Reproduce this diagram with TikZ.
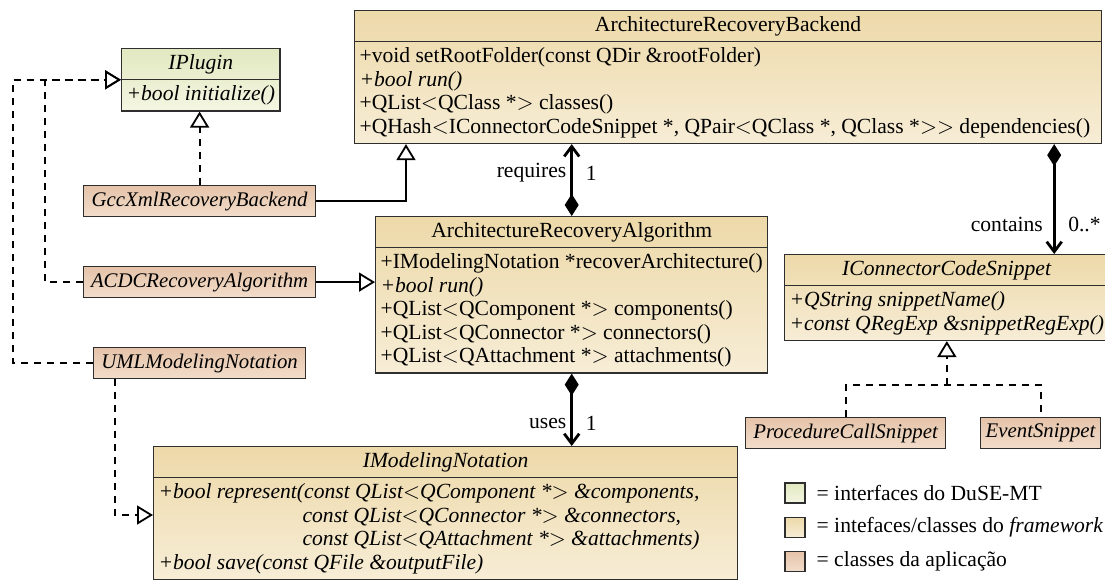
\documentclass[tikz,border=0pt]{standalone}
\usepackage{fontspec}
\setmainfont{Liberation Serif}
\usepackage{xcolor}
\usepackage{tikz}
\usetikzlibrary{arrows.meta,positioning,calc,shapes.multipart}

\newcommand{\umlsize}{\fontsize{10.8}{11.75}\selectfont}
\newcommand{\appsize}{\fontsize{10.4}{11.75}\selectfont}
\definecolor{boxline}{HTML}{2E2E2E}
\definecolor{duseTop}{HTML}{E2E8C0}
\definecolor{duseBot}{HTML}{F4F6E2}
\definecolor{fwTop}{HTML}{EDD9A9}
\definecolor{fwBot}{HTML}{F7EDD6}
\definecolor{appTop}{HTML}{E5C3A9}
\definecolor{appBot}{HTML}{F2DDCB}

\tikzset{
  umlclass/.style={rectangle split, rectangle split parts=2, draw=boxline, line width=0.6pt,
    align=left, rectangle split part align={center,left}, inner xsep=2.5pt, inner ysep=2.6pt,
    anchor=north west},
  appclass/.style={rectangle, draw=boxline, line width=0.6pt, appfill,
    minimum height=15.5pt, inner xsep=1.5pt, inner ysep=2pt, anchor=north west, font=\appsize\itshape},
  duseiface/.style={top color=duseTop, bottom color=duseBot},
  fwclass/.style={top color=fwTop, bottom color=fwBot},
  appfill/.style={top color=appTop, bottom color=appBot},
  realize/.style={line width=0.9pt, dash pattern=on 3.5pt off 3pt, -{Triangle[open,length=8pt,width=9.5pt]}},
  dashline/.style={line width=0.9pt, dash pattern=on 3.5pt off 3pt},
  generalize/.style={line width=0.9pt, -{Triangle[open,length=8pt,width=9.5pt]}},
  compose/.style={line width=1.4pt, {Diamond[length=11pt,width=7pt]}-{Straight Barb[length=5pt,width=7.5pt]}},
  legbox/.style={draw=boxline, line width=0.6pt, minimum size=10pt, inner sep=0pt}
}

\begin{document}
\begin{tikzpicture}[x=0.5pt,y=-0.5pt, every node/.style={font=\umlsize}]
\useasboundingbox (0,0) rectangle (1105,585);

% classes
\node[umlclass,duseiface,minimum width=79pt] (iplugin) at (121,48)
  {\textit{IPlugin}\nodepart{two}\textit{+bool initialize()}};
\node[umlclass,fwclass,minimum width=373.5pt] (backend) at (354,10)
  {ArchitectureRecoveryBackend\nodepart{two}+void setRootFolder(const QDir \&rootFolder)\\
   \textit{+bool run()}\\
   +QList$<$QClass *$>$ classes()\\
   +QHash$<$IConnectorCodeSnippet *, QPair$<$QClass *, QClass *$>>$ dependencies()};
\node[umlclass,fwclass,minimum width=196pt] (algo) at (375,216)
  {ArchitectureRecoveryAlgorithm\nodepart{two}+IModelingNotation *recoverArchitecture()\\
   \textit{+bool run()}\\
   +QList$<$QComponent *$>$ components()\\
   +QList$<$QConnector *$>$ connectors()\\
   +QList$<$QAttachment *$>$ attachments()};
\node[umlclass,fwclass,minimum width=159.5pt] (csnip) at (784,254)
  {\textit{IConnectorCodeSnippet}\nodepart{two}\textit{+QString snippetName()}\\
   \textit{+const QRegExp \&snippetRegExp()}};
\node[umlclass,fwclass,minimum width=292pt] (imodel) at (153,446)
  {\textit{IModelingNotation}\nodepart{two}\textit{+bool represent(const QList$<$QComponent *$>$ \&components,}\\
   \hspace*{72pt}\textit{const QList$<$QConnector *$>$ \&connectors,}\\
   \hspace*{72pt}\textit{const QList$<$QAttachment *$>$ \&attachments)}\\
   \textit{+bool save(const QFile \&outputFile)}};

\node[appclass,minimum width=116pt] (gcc) at (83,185) {GccXmlRecoveryBackend};
\node[appclass,minimum width=116pt] (acdc) at (83,266) {ACDCRecoveryAlgorithm};
\node[appclass,minimum width=106pt] (uml) at (93,347) {UMLModelingNotation};
\node[appclass,minimum width=100pt] (proc) at (745,417) {ProcedureCallSnippet};
\node[appclass,minimum width=60pt] (event) at (980,417) {EventSnippet};

% connectors
\coordinate (bkgen) at ([xshift=26pt]backend.south west);
\coordinate (bkcont) at ([xshift=-24pt]backend.south east);
\coordinate (sjoin) at ($(csnip.south)+(0,44)$);
\draw[realize] (gcc.north) -- (gcc.north |- iplugin.south);
\draw[realize] (acdc.west) -- ++(-38,0) |- (iplugin.text split west);
\draw[realize] (uml.west) -- ++(-80,0) |- (iplugin.text split west);
\draw[realize] ([xshift=11pt]uml.south west) |- ([yshift=-34.5pt]imodel.north west);
\draw[generalize] (gcc.east) -| (bkgen);
\draw[generalize] (acdc.east) -- (acdc.east -| algo.west);
\draw[compose] (algo.north) -- (algo.north |- backend.south)
  node[pos=0.6,left,inner sep=2pt] {requires} node[pos=0.6,right,xshift=3pt] {1};
\draw[compose] (algo.south) -- (algo.south |- imodel.north)
  node[pos=0.69,left,inner sep=2pt] {uses} node[pos=0.69,right,xshift=3pt] {1};
\draw[compose] (bkcont) -- (bkcont |- csnip.north)
  node[pos=0.73,left,inner sep=5pt] {contains} node[pos=0.73,right,xshift=3pt] {0..*};
\draw[dashline] (proc.north) |- (sjoin) -| (event.north);
\draw[realize] (sjoin) -- (csnip.south);

% legend
\node[legbox,duseiface] (lgA) at (795,493) {};
\node[legbox,fwclass,below=6.5pt of lgA] (lgB) {};
\node[legbox,appfill,below=6.5pt of lgB] (lgC) {};
\node[right=2pt of lgA] (lgtA) {= interfaces do DuSE-MT};
\node[right=2pt of lgB] (lgtB) {= intefaces/classes do \textit{framework}};
\node[right=2pt of lgC] (lgtC) {= classes da aplicação};
\end{tikzpicture}
\end{document}
